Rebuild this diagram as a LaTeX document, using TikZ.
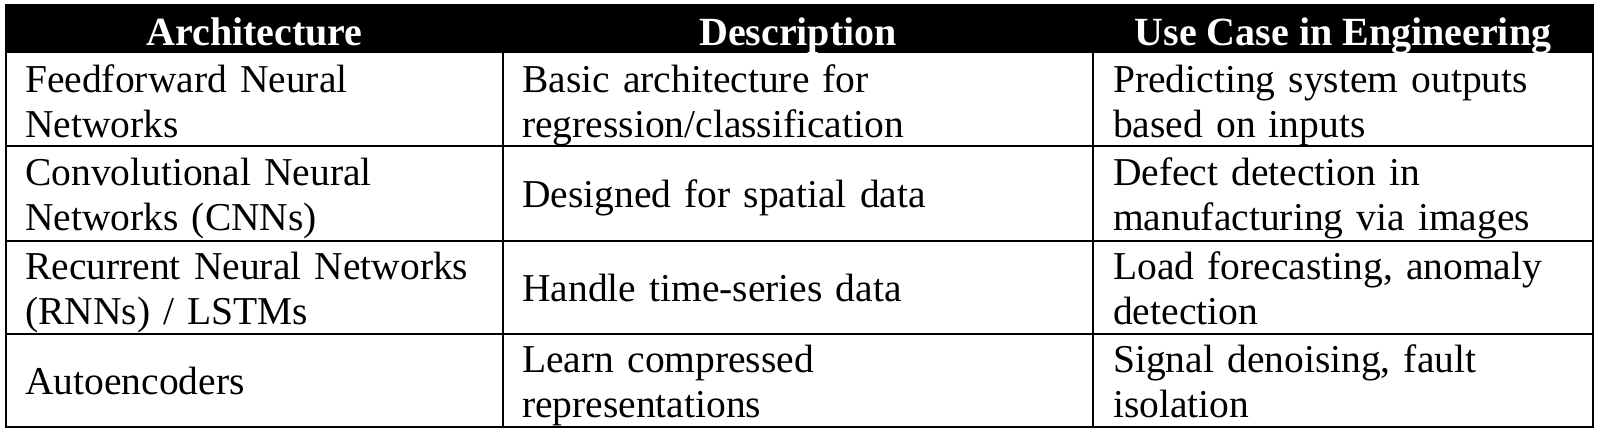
\documentclass[tikz,border=0pt]{standalone}
\usepackage{fontspec}
\setmainfont{Liberation Serif}
\usetikzlibrary{positioning}

\begin{document}
\begin{tikzpicture}
[x=1pt,y=-1pt,
  cell/.style={anchor=base west,inner sep=0pt,align=left,text width=465pt,
    font=\fontsize{39.5}{45}\selectfont},
  head/.style={anchor=base,inner sep=0pt,text=white,
    font=\fontsize{40}{45}\selectfont\bfseries},
  rule/.style={draw=black,line width=1.5pt}]

\useasboundingbox (0,0) rectangle (1600,434);
\fill[black] (6,5) rectangle (1593,53);
\draw[rule] (6,146) -- (1593,146)
            (6,241) -- (1593,241)
            (6,334) -- (1593,334)
            (503,53) -- (503,427)
            (1093,53) -- (1093,427);
\draw[line width=2pt] (6,5) rectangle (1593,427);

\node[head] (archhead) at (254.5,45) {Architecture};
\node[head] (deschead) at (798,45) {Description};
\node[head] (usehead) at (1343,45) {Use Case in Engineering};

\node[cell] (ffnn) at (25,92) {Feedforward Neural\\Networks};
\node[cell] (ffnndesc) at (522,92) {Basic architecture for\\regression/classification};
\node[cell] (ffnnuse) at (1113,92) {Predicting system outputs\\based on inputs};

\node[cell] (cnn) at (25,185) {Convolutional Neural\\Networks (CNNs)};
\node[cell] (cnndesc) at (522,207.5) {Designed for spatial data};
\node[cell] (cnnuse) at (1113,185) {Defect detection in\\manufacturing via images};

\node[cell] (rnn) at (25,279) {Recurrent Neural Networks\\(RNNs) / LSTMs};
\node[cell] (rnndesc) at (522,301.5) {Handle time-series data};
\node[cell] (rnnuse) at (1113,279) {Load forecasting, anomaly\\detection};

\node[cell] (ae) at (25,394) {Autoencoders};
\node[cell] (aedesc) at (522,372) {Learn compressed\\representations};
\node[cell] (aeuse) at (1113,372) {Signal denoising, fault\\isolation};
\end{tikzpicture}
\end{document}
